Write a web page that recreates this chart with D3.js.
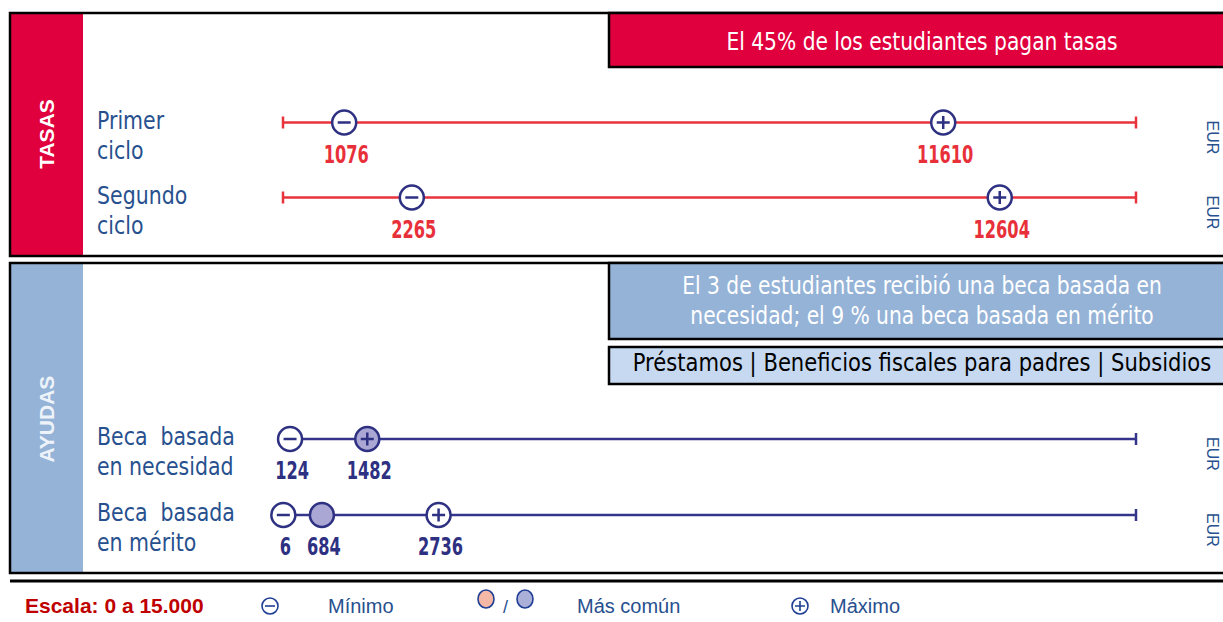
<!DOCTYPE html>
<html>
<head>
<meta charset="utf-8">
<script src="https://cdn.jsdelivr.net/npm/d3@7"></script>
<style>
  html, body { margin: 0; padding: 0; background: #fff; overflow: hidden; }
  svg { display: block; }
</style>
</head>
<body>
<script>
// rows of the chart
const rowLines = [["Primer", "ciclo"], ["Segundo", "ciclo"], ["Beca  basada", "en necesidad"], ["Beca  basada", "en mérito"]];
const rowPanel = ["TASAS", "TASAS", "AYUDAS", "AYUDAS"];
const minValues = [1076, 2265, 124, 6];
const commonValues = [null, null, 1482, 684];
const maxValues = [11610, 12604, 1482, 2736];
const scaleDomain = [0, 15000];
const unitLabel = "EUR";

const panelNames = ["TASAS", "AYUDAS"];
const panelNotes = [
  ["El 45% de los estudiantes pagan tasas"],
  ["El 3 de estudiantes recibió una beca basada en", "necesidad; el 9 % una beca basada en mérito"]
];
const subNote = "Préstamos | Beneficios fiscales para padres | Subsidios";
const legendLabels = ["Escala: 0 a 15.000", "Mínimo", "Más común", "Máximo"];

let width = 1223;
let height = 622;

const cond = "'DejaVu Sans Condensed', 'Liberation Sans Narrow', sans-serif";
const arial = "'Liberation Sans', Arial, sans-serif";

const navy = "#2e3082";
const labelBlue = "#27508e";

// panel geometry
const panels = [
  { name: "TASAS", top: 13, bottom: 256, color: "#e1003e", rows: [122.5, 197.5], line: "#e8333d", num: "#e8303a", fromZero: true },
  { name: "AYUDAS", top: 263, bottom: 573, color: "#95b3d7", rows: [439, 515], line: "#34358a", num: "#2e3082", fromZero: false }
];

let x = d3.scaleLinear().domain(scaleDomain).range([283, 1136]);

let rows = rowLines.map((lines, i) => ({
  lines, panel: rowPanel[i], min: minValues[i], common: commonValues[i], max: maxValues[i]
}));

let svg = d3.select("body").append("svg")
    .attr("width", width)
    .attr("height", height)
    .attr("viewBox", [0, 0, width, height]);

panels.forEach((p, pi) => {
  let pRows = rows.filter(d => d.panel === p.name);
  let y = d3.scalePoint().domain(pRows.map((d, i) => i)).range(p.rows);

  let g = svg.append("g").attr("class", "panel");

  // side bar
  g.append("rect")
      .attr("x", 10).attr("y", p.top)
      .attr("width", 73).attr("height", p.bottom - p.top)
      .attr("fill", p.color);

  g.append("text")
      .attr("transform", `translate(54,${pi === 0 ? 134 : 419}) rotate(-90)`)
      .attr("text-anchor", "middle")
      .attr("fill", pi === 0 ? "#fff" : "#eef3fa")
      .style("font-family", arial)
      .style("font-weight", "bold")
      .style("font-size", "21px")
      .text(panelNames[pi]);

  // outer frame
  g.append("rect")
      .attr("x", 10).attr("y", p.top)
      .attr("width", 1240).attr("height", p.bottom - p.top)
      .attr("fill", "none")
      .attr("stroke", "#000")
      .attr("stroke-width", 2.5);

  // note box
  let notes = panelNotes[pi];
  let boxH = notes.length === 1 ? 54 : 76;
  g.append("rect")
      .attr("x", 609).attr("y", p.top)
      .attr("width", 640).attr("height", boxH)
      .attr("fill", p.color)
      .attr("stroke", "#000")
      .attr("stroke-width", 2.5);
  g.selectAll("text.note")
    .data(notes)
    .join("text")
      .attr("class", "note")
      .attr("transform", (d, i) => `translate(922,${p.top + (notes.length === 1 ? 37 : 31 + i * 30)}) scale(0.9,1)`)
      .attr("text-anchor", "middle")
      .attr("fill", "#fff")
      .style("font-family", cond)
      .style("font-size", "25px")
      .text(d => d);

  if (pi === 1) {
    g.append("rect")
        .attr("x", 609).attr("y", p.top + 84)
        .attr("width", 640).attr("height", 37)
        .attr("fill", "#c6d9f1")
        .attr("stroke", "#000")
        .attr("stroke-width", 2.5);
    g.append("text")
        .attr("transform", `translate(922,${p.top + 108}) scale(0.92,1)`)
        .attr("text-anchor", "middle")
        .attr("fill", "#000")
        .style("font-family", cond)
        .style("font-size", "25.5px")
        .text(subNote);
  }

  // rows
  let row = g.selectAll("g.row")
    .data(pRows)
    .join("g")
      .attr("class", "row")
      .attr("transform", (d, i) => `translate(0,${y(i)})`);

  row.selectAll("text.lab")
    .data(d => d.lines)
    .join("text")
      .attr("class", "lab")
      .attr("transform", (d, i) => `translate(97,${6 + i * 30}) scale(0.95,1)`)
      .attr("fill", labelBlue)
      .style("font-family", cond)
      .style("font-size", "24px")
      .style("white-space", "pre")
      .text(d => d);

  row.append("line")
      .attr("x1", d => p.fromZero ? x(scaleDomain[0]) : x(d.min))
      .attr("x2", x(scaleDomain[1]))
      .attr("stroke", p.line)
      .attr("stroke-width", 2.5);

  row.append("line")
      .attr("x1", x(scaleDomain[1])).attr("x2", x(scaleDomain[1]))
      .attr("y1", -6).attr("y2", 6)
      .attr("stroke", p.line)
      .attr("stroke-width", 2.5);

  if (p.fromZero) {
    row.append("line")
        .attr("x1", x(scaleDomain[0])).attr("x2", x(scaleDomain[0]))
        .attr("y1", -6).attr("y2", 6)
        .attr("stroke", p.line)
        .attr("stroke-width", 2.5);
  }

  // markers: min, common, max
  let marks = row.selectAll("g.mark")
    .data(d => {
      let m = [{ v: d.min, kind: "min", filled: false }];
      if (d.common != null && d.common !== d.max) m.push({ v: d.common, kind: "common", filled: true });
      m.push({ v: d.max, kind: "max", filled: d.common === d.max });
      return m;
    })
    .join("g")
      .attr("class", "mark")
      .attr("transform", d => `translate(${x(d.v)},0)`);

  marks.append("circle")
      .attr("r", 12)
      .attr("fill", d => d.filled ? "#aaa7d4" : "#fff")
      .attr("stroke", navy)
      .attr("stroke-width", 2.5);

  marks.filter(d => d.kind !== "common").append("path")
      .attr("d", d => d.kind === "min" ? "M-6.5,0H6.5" : "M-6.5,0H6.5M0,-6.5V6.5")
      .attr("stroke", navy)
      .attr("stroke-width", 2.5);

  marks.append("text")
      .attr("transform", "translate(2,40) scale(0.75,1)")
      .attr("text-anchor", "middle")
      .attr("fill", p.num)
      .style("font-family", cond)
      .style("font-weight", "bold")
      .style("font-size", "24px")
      .text(d => d.v);

  // unit label on the right
  row.append("text")
      .attr("transform", "translate(1207,-2) rotate(90)")
      .attr("fill", labelBlue)
      .style("font-family", arial)
      .style("font-size", "16px")
      .text(unitLabel);
});

// legend
let lg = svg.append("g").attr("class", "legend");
lg.append("line")
    .attr("x1", 10).attr("x2", width)
    .attr("y1", 581).attr("y2", 581)
    .attr("stroke", "#000")
    .attr("stroke-width", 3);

lg.append("text")
    .attr("x", 25).attr("y", 613)
    .attr("fill", "#c00000")
    .style("font-family", arial)
    .style("font-weight", "bold")
    .style("font-size", "21px")
    .text(legendLabels[0]);

const iconBlue = "#1f3f94";
lg.append("circle").attr("cx", 270).attr("cy", 606).attr("r", 8)
    .attr("fill", "#fff").attr("stroke", iconBlue).attr("stroke-width", 1.6);
lg.append("path").attr("d", "M265,606H275").attr("stroke", iconBlue).attr("stroke-width", 1.6);
lg.append("text").attr("x", 328).attr("y", 613)
    .attr("fill", labelBlue).style("font-family", arial).style("font-size", "20px")
    .text(legendLabels[1]);

lg.append("ellipse").attr("cx", 486).attr("cy", 599).attr("rx", 8).attr("ry", 9)
    .attr("fill", "#f5b8a6").attr("stroke", iconBlue).attr("stroke-width", 1.6);
lg.append("text").attr("x", 503).attr("y", 613)
    .attr("fill", labelBlue).style("font-family", arial).style("font-size", "18px")
    .text("/");
lg.append("ellipse").attr("cx", 525).attr("cy", 599).attr("rx", 8).attr("ry", 9)
    .attr("fill", "#aab0d8").attr("stroke", iconBlue).attr("stroke-width", 1.6);
lg.append("text").attr("x", 577).attr("y", 613)
    .attr("fill", labelBlue).style("font-family", arial).style("font-size", "20px")
    .text(legendLabels[2]);

lg.append("circle").attr("cx", 800).attr("cy", 606).attr("r", 8)
    .attr("fill", "#fff").attr("stroke", iconBlue).attr("stroke-width", 1.6);
lg.append("path").attr("d", "M795,606H805M800,601V611").attr("stroke", iconBlue).attr("stroke-width", 1.6);
lg.append("text").attr("x", 830).attr("y", 613)
    .attr("fill", labelBlue).style("font-family", arial).style("font-size", "20px")
    .text(legendLabels[3]);
</script>
</body>
</html>
